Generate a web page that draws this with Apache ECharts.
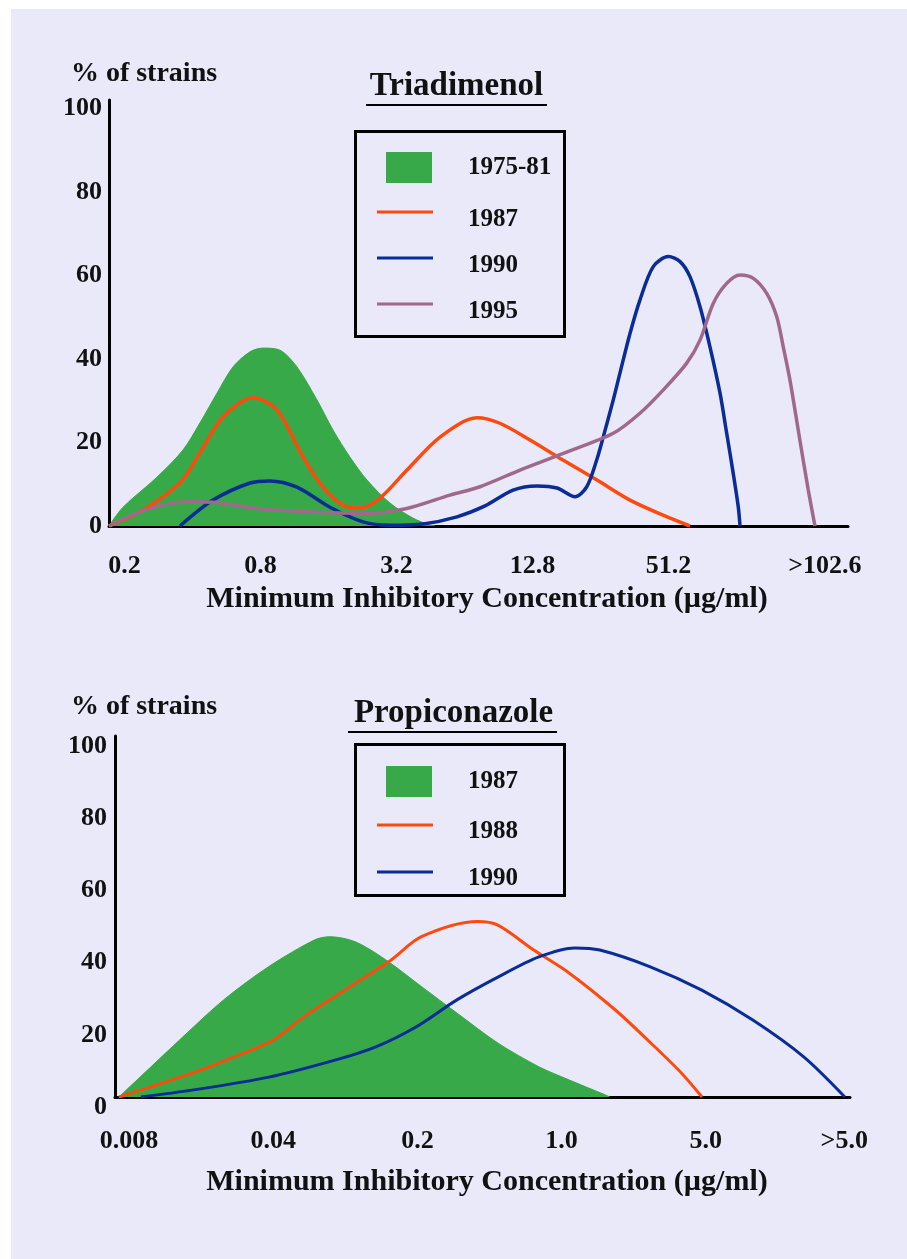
<!DOCTYPE html>
<html><head><meta charset="utf-8">
<script src="https://cdn.jsdelivr.net/npm/echarts@6/dist/echarts.min.js"></script>
<style>
html,body{margin:0;padding:0;background:#fff}
#c{position:absolute;left:0;top:0;width:907px;height:1259px;background:#E9E9FA;box-shadow:inset 11px 9px 0 0 #fff}
</style>
</head><body><div id="c"></div>
<script>
// ---- Data (x = position on the MIC scale, one unit per labelled step; y = % of strains)
const yTickValues = [0, 20, 40, 60, 80, 100];

const triTitle = 'Triadimenol';
const triNames = ['1975-81', '1987', '1990', '1995'];
const triTickPos = [0, 1, 2, 3, 4, 5.15];
const triTickLabels = ['0.2', '0.8', '3.2', '12.8', '51.2', '>102.6'];
const tri1975 = [[-0.114,0],[-0.011,4.5],[0.239,11.7],[0.43,18.2],[0.555,24.7],[0.68,31.8],[0.798,38.1],[0.923,41.7],[1.018,42.6],[1.143,42.1],[1.268,38.1],[1.415,30.2],[1.533,23.0],[1.658,16.5],[1.783,11.0],[1.952,5.5],[2.121,1.9],[2.246,0.2],[2.283,0]];
const tri1987 = [[-0.114,0],[0.114,3.4],[0.408,10.3],[0.555,17.5],[0.724,26.1],[0.945,30.7],[1.121,27.8],[1.313,16.5],[1.46,9.3],[1.607,5.0],[1.732,4.3],[1.879,6.7],[2.077,13.4],[2.32,21.3],[2.592,25.9],[2.76,24.6],[2.982,20.6],[3.224,15.8],[3.474,11.0],[3.717,6.2],[3.96,2.6],[4.158,0]];
const tri1990 = [[0.408,0],[0.651,6.2],[0.923,10.3],[1.07,10.8],[1.268,9.3],[1.511,4.5],[1.754,1.0],[1.952,0.2],[2.195,0.5],[2.445,2.2],[2.651,4.8],[2.857,8.6],[3.033,9.6],[3.18,9.1],[3.313,7.0],[3.399,9.4],[3.472,15.8],[3.521,21.4],[3.594,30.2],[3.643,36.6],[3.717,46.1],[3.79,54.1],[3.888,62.1],[3.999,64.5],[4.085,63.3],[4.158,59.7],[4.232,52.5],[4.305,42.9],[4.379,31.8],[4.428,22.2],[4.476,12.6],[4.513,4.6],[4.526,0]];
const tri1995 = [[-0.114,0],[0.114,3.4],[0.283,5.0],[0.482,5.8],[0.678,5.6],[0.972,4.2],[1.34,3.4],[1.781,3.0],[2.075,4.2],[2.393,7.4],[2.614,9.4],[2.908,13.4],[3.227,17.4],[3.594,22.2],[3.79,27.0],[3.962,32.6],[4.134,39.0],[4.232,44.5],[4.329,53.3],[4.428,58.1],[4.526,60.1],[4.624,59.3],[4.722,55.7],[4.796,50.1],[4.844,42.9],[4.893,35.0],[4.966,20.6],[5.028,8.6],[5.077,0]];

const propTitle = 'Propiconazole';
const propNames = ['1987', '1988', '1990'];
const propTickPos = [0, 1, 2, 3, 4, 4.96];
const propTickLabels = ['0.008', '0.04', '0.2', '1.0', '5.0', '>5.0'];
const prop1987 = [[-0.069,0],[0.402,17.7],[0.656,26.9],[0.968,36.1],[1.286,43.5],[1.393,44.4],[1.569,43.0],[1.781,38.0],[2.028,30.6],[2.276,23.2],[2.56,14.9],[2.842,8.4],[3.054,4.7],[3.302,0.6],[3.334,0]];
const prop1988 = [[-0.069,0],[0.437,6.6],[0.79,12.1],[1.003,15.8],[1.213,22.2],[1.497,29.6],[1.816,37.9],[2.028,44.4],[2.418,48.6],[2.558,47.6],[2.807,40.7],[3.054,34.3],[3.373,24.1],[3.62,14.9],[3.832,6.6],[3.974,0]];
const prop1990 = [[0.083,0],[0.437,1.9],[0.971,5.5],[1.428,10.2],[1.712,13.9],[1.99,19.4],[2.274,26.9],[2.558,33.2],[2.842,38.8],[3.092,41.3],[3.265,40.7],[3.619,36.0],[3.972,29.6],[4.326,21.3],[4.679,11.1],[4.964,0]];

const axisTitle = 'Minimum Inhibitory Concentration (\u00b5g/ml)';
const yName = '% of strains';

// ---- Styles
const FONT = "'Liberation Serif', 'Times New Roman', serif";
const GREEN = '#38A948', ORANGE = '#FF4A0E', BLUE = '#0A2C96', MAUVE = '#A0698C';
const INK = '#111';
// thin line icon sitting at the top of a taller (invisible) box, so the text sits a little below the line
const lineIcon1 = 'path://M0,0L0,0M0,19L0,19M0,0H56V3H0Z';
const lineIcon2 = 'path://M0,0L0,0M0,17L0,17M0,0H56V3H0Z';

function nearestLabel(pos, labels) {
  return function (v) {
    let best = 0;
    for (let i = 1; i < pos.length; i++) if (Math.abs(pos[i] - v) < Math.abs(pos[best] - v)) best = i;
    return labels[best];
  };
}

function areaSeries(name, data, color, idx) {
  return { type: 'line', name: name, data: data, xAxisIndex: idx, yAxisIndex: idx, smooth: 0.3,
    symbol: 'none', color: color, itemStyle: { color: color },
    lineStyle: { width: 1, color: color }, areaStyle: { color: color, opacity: 1 }, z: 1 };
}
function lineSeries(name, data, color, idx, w) {
  return { type: 'line', name: name, data: data, xAxisIndex: idx, yAxisIndex: idx, smooth: 0.3,
    symbol: 'none', color: color, itemStyle: { color: color },
    lineStyle: { width: w, color: color }, z: 3 };
}

const chart = echarts.init(document.getElementById('c'), null, { renderer: 'canvas' });

const axisLineStyle = { show: true, onZero: false, lineStyle: { color: '#000', width: 3 } };
const labelStyle = { color: INK, fontFamily: FONT, fontWeight: 'bold', fontSize: 26 };
const legendText = { color: INK, fontFamily: FONT, fontWeight: 'bold', fontSize: 25, lineHeight: 30 };
const stripName = function (n) { return n.substring(n.indexOf(' ') + 1); };
const nameStyle = { color: INK, fontFamily: FONT, fontWeight: 'bold', fontSize: 30 };

const option = {
  animation: false,
  backgroundColor: 'transparent',
  grid: [
    { left: 109, top: 100, width: 739, height: 426, containLabel: false, outerBoundsMode: 'none' },
    { left: 115, top: 736, width: 735, height: 361, containLabel: false, outerBoundsMode: 'none' }
  ],
  xAxis: [
    { type: 'value', gridIndex: 0, min: -0.114, max: 5.32,
      axisLine: axisLineStyle, axisTick: { show: false }, splitLine: { show: false },
      axisLabel: Object.assign({ margin: 27, customValues: triTickPos, formatter: nearestLabel(triTickPos, triTickLabels) }, labelStyle),
      name: axisTitle, nameLocation: 'middle', nameGap: 58,
      nameTextStyle: Object.assign({ padding: [0, 0, 0, 17] }, nameStyle) },
    { type: 'value', gridIndex: 1, min: -0.097, max: 5.0,
      axisLine: axisLineStyle, axisTick: { show: false }, splitLine: { show: false },
      axisLabel: Object.assign({ margin: 31, customValues: propTickPos, formatter: nearestLabel(propTickPos, propTickLabels) }, labelStyle),
      name: axisTitle, nameLocation: 'middle', nameGap: 70,
      nameTextStyle: Object.assign({ padding: [0, 0, 0, 9] }, nameStyle) }
  ],
  yAxis: [
    { type: 'value', gridIndex: 0, min: 0, max: 102,
      axisLine: axisLineStyle, axisTick: { show: false }, splitLine: { show: false },
      axisLabel: Object.assign({ margin: 7, customValues: yTickValues }, labelStyle),
      name: yName, nameLocation: 'end', nameGap: 12,
      nameTextStyle: { color: INK, fontFamily: FONT, fontWeight: 'bold', fontSize: 28, padding: [0, 0, 0, 70] } },
    { type: 'value', gridIndex: 1, min: 0, max: 100, interval: 20,
      axisLine: axisLineStyle, axisTick: { show: false }, splitLine: { show: false },
      axisLabel: Object.assign({ margin: 8, customValues: yTickValues, verticalAlign: 'top', lineHeight: 20 }, labelStyle),
      name: yName, nameLocation: 'end', nameGap: 15,
      nameTextStyle: { color: INK, fontFamily: FONT, fontWeight: 'bold', fontSize: 28, padding: [0, 0, 0, 58] } }
  ],
  legend: [
    { orient: 'vertical', left: 386, top: 152, padding: 0, itemWidth: 46, itemHeight: 31, selectedMode: false,
      data: [{ name: triTitle + ' ' + triNames[0], icon: 'rect' }], formatter: stripName,
      textStyle: Object.assign({ padding: [0, 0, 0, 31] }, legendText) },
    { orient: 'vertical', left: 377, top: 205, padding: 0, itemWidth: 56, itemHeight: 19, itemGap: 16, selectedMode: false,
      data: triNames.slice(1).map(function (n) { return { name: triTitle + ' ' + n, icon: lineIcon1 }; }), formatter: stripName,
      textStyle: Object.assign({ padding: [0, 0, 0, 30] }, legendText) },
    { orient: 'vertical', left: 386, top: 766, padding: 0, itemWidth: 46, itemHeight: 31, selectedMode: false,
      data: [{ name: propTitle + ' ' + propNames[0], icon: 'rect' }], formatter: stripName,
      textStyle: Object.assign({ padding: [0, 0, 0, 31] }, legendText) },
    { orient: 'vertical', left: 377, top: 817, padding: 0, itemWidth: 56, itemHeight: 17, itemGap: 17, selectedMode: false,
      data: propNames.slice(1).map(function (n) { return { name: propTitle + ' ' + n, icon: lineIcon2 }; }), formatter: stripName,
      textStyle: Object.assign({ padding: [0, 0, 0, 30] }, legendText) }
  ],
  graphic: [
    { type: 'text', x: 456.5, y: 86, style: { text: triTitle, fill: INK, font: "bold 33px 'Liberation Serif', serif", textAlign: 'center', textVerticalAlign: 'middle' } },
    { type: 'line', shape: { x1: 366, y1: 105, x2: 547, y2: 105 }, style: { stroke: '#000', lineWidth: 2 } },
    { type: 'rect', shape: { x: 355.5, y: 131.5, width: 209, height: 205 }, style: { fill: 'none', stroke: '#000', lineWidth: 3 } },
    { type: 'text', x: 453.5, y: 713, style: { text: propTitle, fill: INK, font: "bold 33px 'Liberation Serif', serif", textAlign: 'center', textVerticalAlign: 'middle' } },
    { type: 'line', shape: { x1: 348, y1: 732, x2: 557, y2: 732 }, style: { stroke: '#000', lineWidth: 2 } },
    { type: 'rect', shape: { x: 355.5, y: 744.5, width: 209, height: 151 }, style: { fill: 'none', stroke: '#000', lineWidth: 3 } }
  ],
  series: [
    areaSeries(triTitle + ' ' + triNames[0], tri1975, GREEN, 0),
    lineSeries(triTitle + ' ' + triNames[1], tri1987, ORANGE, 0, 3.5),
    lineSeries(triTitle + ' ' + triNames[2], tri1990, BLUE, 0, 3.5),
    lineSeries(triTitle + ' ' + triNames[3], tri1995, MAUVE, 0, 3.5),
    areaSeries(propTitle + ' ' + propNames[0], prop1987, GREEN, 1),
    lineSeries(propTitle + ' ' + propNames[1], prop1988, ORANGE, 1, 3),
    lineSeries(propTitle + ' ' + propNames[2], prop1990, BLUE, 1, 3)
  ]
};
chart.setOption(option);
</script></body></html>
